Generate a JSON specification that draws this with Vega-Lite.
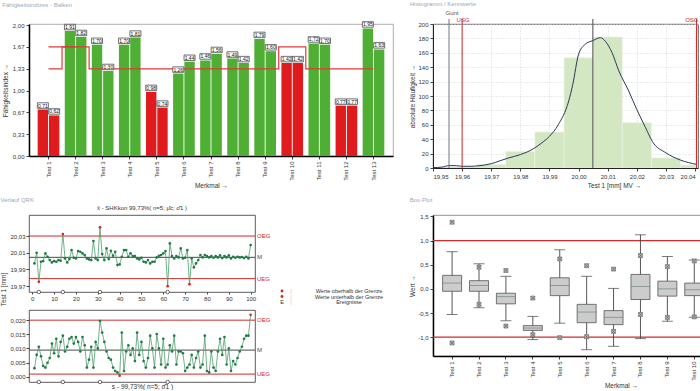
{
  "$schema": "https://vega.github.io/schema/vega-lite/v6.json",
  "background": "#ffffff",
  "padding": 0,
  "spacing": 6,
  "config": {
    "font": "Liberation Sans",
    "locale": {"number": {"decimal": ",", "thousands": ".", "grouping": [3], "currency": ["", " €"], "minus": "-"}},
    "view": {"stroke": "#444444", "strokeWidth": 0.8},
    "axis": {"labelFontSize": 6, "titleFontSize": 6.5, "labelColor": "#333333", "titleColor": "#333333", "titleFontWeight": "normal", "tickSize": 3, "labelPadding": 2, "tickColor": "#444444", "domainColor": "#222222", "grid": false, "labelOverlap": false},
    "title": {"fontSize": 6, "fontWeight": "normal", "color": "#9aaabb", "anchor": "start"}
  },
  "datasets": {
    "cpk": [
      {"nr": 1, "test": "Test 1", "kennwert": "Cp", "wert": 0.71, "status": "n.i.O."},
      {"nr": 1, "test": "Test 1", "kennwert": "Cpk", "wert": 0.62, "status": "n.i.O."},
      {"nr": 2, "test": "Test 2", "kennwert": "Cp", "wert": 1.91, "status": "i.O."},
      {"nr": 2, "test": "Test 2", "kennwert": "Cpk", "wert": 1.82, "status": "i.O."},
      {"nr": 3, "test": "Test 3", "kennwert": "Cp", "wert": 1.70, "status": "i.O."},
      {"nr": 3, "test": "Test 3", "kennwert": "Cpk", "wert": 1.30, "status": "i.O."},
      {"nr": 4, "test": "Test 4", "kennwert": "Cp", "wert": 1.70, "status": "i.O."},
      {"nr": 4, "test": "Test 4", "kennwert": "Cpk", "wert": 1.81, "status": "i.O."},
      {"nr": 5, "test": "Test 5", "kennwert": "Cp", "wert": 0.98, "status": "n.i.O."},
      {"nr": 5, "test": "Test 5", "kennwert": "Cpk", "wert": 0.74, "status": "n.i.O."},
      {"nr": 6, "test": "Test 6", "kennwert": "Cp", "wert": 1.26, "status": "i.O."},
      {"nr": 6, "test": "Test 6", "kennwert": "Cpk", "wert": 1.44, "status": "i.O."},
      {"nr": 7, "test": "Test 7", "kennwert": "Cp", "wert": 1.46, "status": "i.O."},
      {"nr": 7, "test": "Test 7", "kennwert": "Cpk", "wert": 1.56, "status": "i.O."},
      {"nr": 8, "test": "Test 8", "kennwert": "Cp", "wert": 1.49, "status": "i.O."},
      {"nr": 8, "test": "Test 8", "kennwert": "Cpk", "wert": 1.42, "status": "i.O."},
      {"nr": 9, "test": "Test 9", "kennwert": "Cp", "wert": 1.79, "status": "i.O."},
      {"nr": 9, "test": "Test 9", "kennwert": "Cpk", "wert": 1.60, "status": "i.O."},
      {"nr": 10, "test": "Test 10", "kennwert": "Cp", "wert": 1.42, "status": "n.i.O."},
      {"nr": 10, "test": "Test 10", "kennwert": "Cpk", "wert": 1.42, "status": "n.i.O."},
      {"nr": 11, "test": "Test 11", "kennwert": "Cp", "wert": 1.72, "status": "i.O."},
      {"nr": 11, "test": "Test 11", "kennwert": "Cpk", "wert": 1.70, "status": "i.O."},
      {"nr": 12, "test": "Test 12", "kennwert": "Cp", "wert": 0.77, "status": "n.i.O."},
      {"nr": 12, "test": "Test 12", "kennwert": "Cpk", "wert": 0.77, "status": "n.i.O."},
      {"nr": 13, "test": "Test 13", "kennwert": "Cp", "wert": 1.95, "status": "i.O."},
      {"nr": 13, "test": "Test 13", "kennwert": "Cpk", "wert": 1.63, "status": "i.O."}
    ],
    "grenzen": [
      {"nr": 1, "test": "Test 1", "serie": "A", "grenze": 1.667},
      {"nr": 2, "test": "Test 2", "serie": "A", "grenze": 1.667},
      {"nr": 3, "test": "Test 3", "serie": "A", "grenze": 1.333},
      {"nr": 4, "test": "Test 4", "serie": "A", "grenze": 1.333},
      {"nr": 5, "test": "Test 5", "serie": "A", "grenze": 1.333},
      {"nr": 6, "test": "Test 6", "serie": "A", "grenze": 1.333},
      {"nr": 7, "test": "Test 7", "serie": "A", "grenze": 1.333},
      {"nr": 8, "test": "Test 8", "serie": "A", "grenze": 1.333},
      {"nr": 9, "test": "Test 9", "serie": "A", "grenze": 1.333},
      {"nr": 10, "test": "Test 10", "serie": "A", "grenze": 1.667},
      {"nr": 11, "test": "Test 11", "serie": "A", "grenze": 1.333},
      {"nr": 12, "test": "Test 12", "serie": "A", "grenze": 1.333},
      {"nr": 13, "test": "Test 13", "serie": "A", "grenze": 1.333},
      {"nr": 1, "test": "Test 1", "serie": "B", "grenze": 1.333},
      {"nr": 2, "test": "Test 2", "serie": "B", "grenze": 1.667}
    ],
    "hist": [
      {"von": 19.965, "bis": 19.975, "anzahl": 5},
      {"von": 19.975, "bis": 19.985, "anzahl": 23},
      {"von": 19.985, "bis": 19.995, "anzahl": 50},
      {"von": 19.995, "bis": 20.005, "anzahl": 153},
      {"von": 20.005, "bis": 20.015, "anzahl": 182},
      {"von": 20.015, "bis": 20.025, "anzahl": 63},
      {"von": 20.025, "bis": 20.035, "anzahl": 14},
      {"von": 20.035, "bis": 20.045, "anzahl": 4}
    ],
    "dichte": [
      {"x": 19.95, "y": 0.5}, {"x": 19.953, "y": 1.2}, {"x": 19.9555, "y": 3.3}, {"x": 19.958, "y": 3.2},
      {"x": 19.96, "y": 2.4}, {"x": 19.963, "y": 2.4}, {"x": 19.9655, "y": 3}, {"x": 19.97, "y": 6},
      {"x": 19.973, "y": 10}, {"x": 19.976, "y": 14}, {"x": 19.98, "y": 18.6}, {"x": 19.984, "y": 25.6},
      {"x": 19.9874, "y": 35}, {"x": 19.99, "y": 44}, {"x": 19.993, "y": 60}, {"x": 19.9966, "y": 93},
      {"x": 19.998, "y": 116}, {"x": 20.0, "y": 158}, {"x": 20.0023, "y": 172}, {"x": 20.0049, "y": 177},
      {"x": 20.0075, "y": 181}, {"x": 20.0092, "y": 176}, {"x": 20.0115, "y": 160}, {"x": 20.0138, "y": 135},
      {"x": 20.0172, "y": 107}, {"x": 20.02, "y": 81}, {"x": 20.023, "y": 56}, {"x": 20.0253, "y": 37},
      {"x": 20.03, "y": 21}, {"x": 20.035, "y": 11}, {"x": 20.0405, "y": 5}
    ],
    "vlinien": [
      {"name": "Gunt", "wert": 19.9555},
      {"name": "USG", "wert": 19.96},
      {"name": "xquer", "wert": 20.0049},
      {"name": "OSG", "wert": 20.0405}
    ],
    "grenzen_x": [
      {"name": "OEG", "wert": 20.03},
      {"name": "M", "wert": 20.0045},
      {"name": "UEG", "wert": 19.979}
    ],
    "grenzen_s": [
      {"name": "OEG", "wert": 0.0200},
      {"name": "M", "wert": 0.0094},
      {"name": "UEG", "wert": 0.0009}
    ],
    "ereignisse": [{"i": 3}, {"i": 14}, {"i": 31}, {"i": 62}],
    "stichproben": [
      {"i": 1, "xbar": 19.9972, "s": 0.0030}, {"i": 2, "xbar": 20.0100, "s": 0.0077}, {"i": 3, "xbar": 19.9752, "s": 0.0106}, {"i": 4, "xbar": 19.9992, "s": 0.0072}, {"i": 5, "xbar": 20.0000, "s": 0.0038},
      {"i": 6, "xbar": 20.0092, "s": 0.0032}, {"i": 7, "xbar": 20.0052, "s": 0.0049}, {"i": 8, "xbar": 20.0012, "s": 0.0066}, {"i": 9, "xbar": 19.9984, "s": 0.0117}, {"i": 10, "xbar": 20.0000, "s": 0.0083},
      {"i": 11, "xbar": 19.9992, "s": 0.0134}, {"i": 12, "xbar": 20.0012, "s": 0.0072}, {"i": 13, "xbar": 20.0004, "s": 0.0123}, {"i": 14, "xbar": 20.0324, "s": 0.0145}, {"i": 15, "xbar": 20.0032, "s": 0.0089},
      {"i": 16, "xbar": 19.9984, "s": 0.0106}, {"i": 17, "xbar": 20.0024, "s": 0.0134}, {"i": 18, "xbar": 20.0132, "s": 0.0140}, {"i": 19, "xbar": 20.0040, "s": 0.0117}, {"i": 20, "xbar": 20.0032, "s": 0.0140},
      {"i": 21, "xbar": 20.0120, "s": 0.0123}, {"i": 22, "xbar": 20.0112, "s": 0.0089}, {"i": 23, "xbar": 20.0092, "s": 0.0140}, {"i": 24, "xbar": 20.0072, "s": 0.0111}, {"i": 25, "xbar": 20.0032, "s": 0.0032},
      {"i": 26, "xbar": 20.0020, "s": 0.0060}, {"i": 27, "xbar": 20.0012, "s": 0.0106}, {"i": 28, "xbar": 20.0240, "s": 0.0032}, {"i": 29, "xbar": 20.0032, "s": 0.0123}, {"i": 30, "xbar": 20.0012, "s": 0.0100},
      {"i": 31, "xbar": 20.0404, "s": 0.0197}, {"i": 32, "xbar": 20.0084, "s": 0.0156}, {"i": 33, "xbar": 20.0012, "s": 0.0123}, {"i": 34, "xbar": 20.0152, "s": 0.0089}, {"i": 35, "xbar": 20.0024, "s": 0.0066},
      {"i": 36, "xbar": 20.0124, "s": 0.0060}, {"i": 37, "xbar": 20.0064, "s": 0.0032}, {"i": 38, "xbar": 20.0112, "s": 0.0020}, {"i": 39, "xbar": 19.9952, "s": 0.0015}, {"i": 40, "xbar": 19.9960, "s": 0.0003},
      {"i": 41, "xbar": 20.0052, "s": 0.0156}, {"i": 42, "xbar": 20.0132, "s": 0.0020}, {"i": 43, "xbar": 20.0132, "s": 0.0089}, {"i": 44, "xbar": 20.0052, "s": 0.0111}, {"i": 45, "xbar": 20.0092, "s": 0.0077},
      {"i": 46, "xbar": 20.0060, "s": 0.0100}, {"i": 47, "xbar": 20.0060, "s": 0.0055}, {"i": 48, "xbar": 20.0032, "s": 0.0156}, {"i": 49, "xbar": 20.0020, "s": 0.0077}, {"i": 50, "xbar": 20.0040, "s": 0.0123},
      {"i": 51, "xbar": 19.9992, "s": 0.0055}, {"i": 52, "xbar": 19.9984, "s": 0.0032}, {"i": 53, "xbar": 20.0012, "s": 0.0066}, {"i": 54, "xbar": 19.9972, "s": 0.0145}, {"i": 55, "xbar": 19.9992, "s": 0.0100},
      {"i": 56, "xbar": 19.9992, "s": 0.0032}, {"i": 57, "xbar": 20.0044, "s": 0.0151}, {"i": 58, "xbar": 20.0064, "s": 0.0100}, {"i": 59, "xbar": 20.0072, "s": 0.0043}, {"i": 60, "xbar": 20.0092, "s": 0.0134},
      {"i": 61, "xbar": 20.0120, "s": 0.0032}, {"i": 62, "xbar": 19.9700, "s": 0.0043}, {"i": 63, "xbar": 20.0212, "s": 0.0111}, {"i": 64, "xbar": 20.0060, "s": 0.0089}, {"i": 65, "xbar": 20.0032, "s": 0.0145},
      {"i": 66, "xbar": 20.0060, "s": 0.0043}, {"i": 67, "xbar": 20.0044, "s": 0.0089}, {"i": 68, "xbar": 20.0152, "s": 0.0089}, {"i": 69, "xbar": 20.0032, "s": 0.0083}, {"i": 70, "xbar": 20.0040, "s": 0.0020},
      {"i": 71, "xbar": 20.0132, "s": 0.0032}, {"i": 72, "xbar": 19.9724, "s": 0.0043}, {"i": 73, "xbar": 20.0032, "s": 0.0077}, {"i": 74, "xbar": 19.9924, "s": 0.0032}, {"i": 75, "xbar": 19.9972, "s": 0.0066},
      {"i": 76, "xbar": 20.0012, "s": 0.0089}, {"i": 77, "xbar": 20.0072, "s": 0.0032}, {"i": 78, "xbar": 20.0044, "s": 0.0043}, {"i": 79, "xbar": 20.0072, "s": 0.0145}, {"i": 80, "xbar": 20.0060, "s": 0.0020},
      {"i": 81, "xbar": 20.0044, "s": 0.0015}, {"i": 82, "xbar": 20.0060, "s": 0.0089}, {"i": 83, "xbar": 20.0040, "s": 0.0032}, {"i": 84, "xbar": 20.0060, "s": 0.0020}, {"i": 85, "xbar": 20.0044, "s": 0.0089},
      {"i": 86, "xbar": 20.0068, "s": 0.0134}, {"i": 87, "xbar": 20.0036, "s": 0.0077}, {"i": 88, "xbar": 20.0060, "s": 0.0140}, {"i": 89, "xbar": 20.0044, "s": 0.0043}, {"i": 90, "xbar": 20.0068, "s": 0.0100},
      {"i": 91, "xbar": 20.0032, "s": 0.0020}, {"i": 92, "xbar": 20.0052, "s": 0.0055}, {"i": 93, "xbar": 20.0040, "s": 0.0043}, {"i": 94, "xbar": 20.0052, "s": 0.0066}, {"i": 95, "xbar": 20.0044, "s": 0.0089},
      {"i": 96, "xbar": 20.0048, "s": 0.0106}, {"i": 97, "xbar": 20.0036, "s": 0.0134}, {"i": 98, "xbar": 20.0052, "s": 0.0145}, {"i": 99, "xbar": 20.0032, "s": 0.0145}, {"i": 100, "xbar": 20.0192, "s": 0.0219}
    ],
    "legende": [
      {"zeile": 1, "label": "Werte oberhalb der Grenze"},
      {"zeile": 2, "label": "Werte unterhalb der Grenze"},
      {"zeile": 3, "label": "Ereignisse"}
    ],
    "box": [
      {"test": "Test 1", "min": -0.53, "q1": -0.05, "median": 0.12, "q3": 0.28, "max": 0.77},
      {"test": "Test 2", "min": -0.39, "q1": -0.05, "median": 0.07, "q3": 0.17, "max": 0.52},
      {"test": "Test 3", "min": -0.66, "q1": -0.31, "median": -0.16, "q3": -0.09, "max": 0.26},
      {"test": "Test 4", "min": -1.05, "q1": -0.86, "median": -0.81, "q3": -0.76, "max": -0.57},
      {"test": "Test 5", "min": -0.71, "q1": -0.14, "median": 0.07, "q3": 0.23, "max": 0.81},
      {"test": "Test 6", "min": -1.26, "q1": -0.70, "median": -0.48, "q3": -0.32, "max": 0.26},
      {"test": "Test 7", "min": -1.19, "q1": -0.74, "median": -0.59, "q3": -0.45, "max": 0.01},
      {"test": "Test 8", "min": -1.03, "q1": -0.22, "median": 0.05, "q3": 0.30, "max": 1.12},
      {"test": "Test 9", "min": -0.67, "q1": -0.15, "median": 0.00, "q3": 0.16, "max": 0.67},
      {"test": "Test 10", "min": -0.59, "q1": -0.14, "median": -0.02, "q3": 0.12, "max": 0.60}
    ],
    "ausreisser": [
      {"test": "Test 1", "wert": 1.38}, {"test": "Test 1", "wert": -1.12},
      {"test": "Test 2", "wert": 0.45}, {"test": "Test 2", "wert": -0.32},
      {"test": "Test 3", "wert": 0.38}, {"test": "Test 3", "wert": -0.77},
      {"test": "Test 4", "wert": -0.19}, {"test": "Test 4", "wert": -0.95},
      {"test": "Test 5", "wert": 0.62}, {"test": "Test 5", "wert": -1.01},
      {"test": "Test 6", "wert": 0.48}, {"test": "Test 6", "wert": -0.99},
      {"test": "Test 7", "wert": 0.41}, {"test": "Test 7", "wert": -0.88},
      {"test": "Test 8", "wert": 0.69}, {"test": "Test 8", "wert": -0.53},
      {"test": "Test 9", "wert": 0.46}, {"test": "Test 9", "wert": -0.59},
      {"test": "Test 10", "wert": 0.58}, {"test": "Test 10", "wert": -0.58}
    ],
    "box_grenzen": [{"grenze": 1.0}, {"grenze": -1.0}]
  },
  "vconcat": [
    {
      "concat": [
        {
          "title": {"text": "Fähigkeitsindizes - Balken", "offset": 12},
          "width": 364,
          "height": 132,
          "view": {"stroke": "#9a9a9a"},
          "layer": [
            {
              "data": {"name": "cpk"},
              "mark": {"type": "bar"},
              "encoding": {
                "x": {"field": "test", "type": "nominal",
                  "scale": {"domain": ["Test 1", "Test 2", "Test 3", "Test 4", "Test 5", "Test 6", "Test 7", "Test 8", "Test 9", "Test 10", "Test 11", "Test 12", "Test 13"], "paddingInner": 0.2, "paddingOuter": 0.32},
                  "axis": {"title": "Merkmal →", "labelAngle": -90, "domainWidth": 1.5, "domainColor": "#000000", "titlePadding": 2, "labelOverlap": false}},
                "xOffset": {"field": "kennwert", "type": "nominal", "scale": {"paddingInner": 0.08}},
                "y": {"field": "wert", "type": "quantitative", "scale": {"domain": [0, 2.018], "nice": false},
                  "axis": {"values": [0, 0.333, 0.667, 1, 1.333, 1.667, 2], "tickCount": 100, "format": ".2f", "title": "Fähigkeitsindex →", "titlePadding": 4, "domainWidth": 1.5, "domainColor": "#000000", "labelOverlap": false}},
                "color": {"condition": {"test": "datum.status == 'n.i.O.'", "value": "#e01b1e"}, "value": "#4fae34"}
              }
            },
            {
              "data": {"name": "grenzen"},
              "mark": {"type": "line", "interpolate": "step", "color": "#e23a3a", "strokeWidth": 1.2},
              "encoding": {
                "x": {"field": "test", "type": "nominal"},
                "y": {"field": "grenze", "type": "quantitative"},
                "detail": {"field": "serie", "type": "nominal"},
                "order": {"field": "nr", "type": "quantitative"}
              }
            },
            {
              "data": {"name": "cpk"},
              "mark": {"type": "point", "shape": "M-1,-0.5H1V0.5H-1Z", "size": 121, "filled": true, "fill": "#ffffff", "stroke": "#333333", "strokeWidth": 0.7, "opacity": 1, "yOffset": -4},
              "encoding": {
                "x": {"field": "test", "type": "nominal"},
                "xOffset": {"field": "kennwert", "type": "nominal"},
                "y": {"field": "wert", "type": "quantitative"}
              }
            },
            {
              "data": {"name": "cpk"},
              "mark": {"type": "text", "fontSize": 5, "color": "#111111", "dy": -4, "baseline": "middle"},
              "encoding": {
                "x": {"field": "test", "type": "nominal"},
                "xOffset": {"field": "kennwert", "type": "nominal"},
                "y": {"field": "wert", "type": "quantitative"},
                "text": {"field": "wert", "type": "quantitative", "format": ".2f"}
              }
            }
          ]
        },
        {
          "title": {"text": "Histogramm / Kennwerte", "offset": 3},
          "width": 265,
          "height": 144,
          "view": {"stroke": "#333333"},
          "layer": [
            {
              "data": {"name": "hist"},
              "mark": {"type": "rect", "fill": "#d3e7c3", "stroke": "#eef5e8", "strokeWidth": 0.6, "clip": true},
              "encoding": {
                "x": {"field": "von", "type": "quantitative", "scale": {"domain": [19.95, 20.041], "nice": false, "zero": false},
                  "axis": {"values": [19.95, 19.96, 19.97, 19.98, 19.99, 20.0, 20.01, 20.02, 20.03, 20.04], "tickCount": 100, "format": ".2f", "labelFlush": 6, "labelOverlap": false, "grid": true, "gridColor": "#d6d6d6", "gridDash": [1, 2], "title": "Test 1 [mm]  MV →", "titleX": 181, "titlePadding": 3}},
                "x2": {"field": "bis"},
                "y": {"field": "anzahl", "type": "quantitative", "scale": {"domain": [0, 200], "nice": false},
                  "axis": {"values": [0, 20, 40, 60, 80, 100, 120, 140, 160, 180, 200], "tickCount": 100, "labelOverlap": false, "grid": true, "gridColor": "#d6d6d6", "gridDash": [1, 2], "title": "absolute Häufigkeit →", "titlePadding": 2}},
                "y2": {"datum": 0}
              }
            },
            {
              "data": {"name": "dichte"},
              "mark": {"type": "line", "interpolate": "monotone", "color": "#2c3858", "strokeWidth": 1},
              "encoding": {
                "x": {"field": "x", "type": "quantitative"},
                "y": {"field": "y", "type": "quantitative"}
              }
            },
            {
              "data": {"name": "vlinien"},
              "mark": {"type": "rule", "strokeWidth": 1},
              "encoding": {
                "x": {"field": "wert", "type": "quantitative"},
                "y": {"datum": 0},
                "y2": {"datum": 207},
                "color": {"condition": [{"test": "datum.name == 'USG' || datum.name == 'OSG'", "value": "#c8282b"}, {"test": "datum.name == 'Gunt'", "value": "#6f7584"}], "value": "#4a4a4a"}
              }
            },
            {
              "data": {"name": "vlinien"},
              "transform": [{"filter": "datum.name == 'Gunt'"}],
              "mark": {"type": "text", "fontSize": 6, "baseline": "bottom", "dx": 3, "color": "#555555"},
              "encoding": {
                "x": {"field": "wert", "type": "quantitative"},
                "y": {"datum": 211},
                "text": {"field": "name"}
              }
            },
            {
              "data": {"name": "vlinien"},
              "transform": [{"filter": "datum.name == 'USG'"}],
              "mark": {"type": "text", "fontSize": 6, "baseline": "bottom", "dx": 1, "color": "#c8282b"},
              "encoding": {
                "x": {"field": "wert", "type": "quantitative"},
                "y": {"datum": 202},
                "text": {"field": "name"}
              }
            },
            {
              "data": {"name": "vlinien"},
              "transform": [{"filter": "datum.name == 'OSG'"}],
              "mark": {"type": "text", "fontSize": 6, "baseline": "bottom", "align": "right", "dx": 2, "color": "#c8282b"},
              "encoding": {
                "x": {"field": "wert", "type": "quantitative"},
                "y": {"datum": 202},
                "text": {"field": "name"}
              }
            }
          ]
        }
      ],
      "columns": 2,
      "align": "none",
      "spacing": 15
    },
    {
      "concat": [
        {
          "title": {"text": "Verlauf QRK", "offset": 2},
          "spacing": 2,
          "vconcat": [
            {
              "title": {"text": "x̄ - SHKkon 99,73%( n=5; μ̂c; σ̂1 )", "anchor": "middle", "color": "#333333", "fontSize": 6, "offset": 4},
              "width": 226,
              "height": 77,
              "view": {"stroke": "#333333"},
              "layer": [
                {
                  "data": {"name": "grenzen_x"},
                  "mark": {"type": "rule", "strokeWidth": 1},
                  "encoding": {
                    "y": {"field": "wert", "type": "quantitative", "scale": {"domain": [19.963, 20.0552], "nice": false, "zero": false},
                      "axis": {"values": [19.97, 19.99, 20.01, 20.03], "tickCount": 100, "format": ".2f", "labelOverlap": false, "title": "Test 1 [mm]", "titlePadding": 3, "titleY": 74, "labelPadding": 1, "domain": false}},
                    "color": {"condition": {"test": "datum.name == 'M'", "value": "#4a4a4a"}, "value": "#cc2a2a"}
                  }
                },
                {
                  "data": {"name": "grenzen_x"},
                  "mark": {"type": "text", "align": "left", "dx": 2, "fontSize": 6},
                  "encoding": {
                    "x": {"datum": 102},
                    "y": {"field": "wert", "type": "quantitative"},
                    "text": {"field": "name"},
                    "color": {"condition": {"test": "datum.name == 'M'", "value": "#4a4a4a"}, "value": "#cc2a2a"}
                  }
                },
                {
                  "data": {"name": "stichproben"},
                  "mark": {"type": "line", "color": "#4a9f68", "strokeWidth": 0.8},
                  "encoding": {
                    "x": {"field": "i", "type": "quantitative", "scale": {"domain": [-1.5, 102], "nice": false, "zero": false},
                      "axis": {"values": [0, 10, 20, 30, 40, 50, 60, 70, 80, 90, 100], "tickCount": 100, "format": "d", "labelOverlap": false, "title": null, "tickSize": 2, "labelPadding": 1, "domain": false}},
                    "y": {"field": "xbar", "type": "quantitative"}
                  }
                },
                {
                  "data": {"name": "stichproben"},
                  "mark": {"type": "circle", "size": 7, "opacity": 1},
                  "encoding": {
                    "x": {"field": "i", "type": "quantitative"},
                    "y": {"field": "xbar", "type": "quantitative"},
                    "color": {"condition": {"test": "datum.xbar > 20.03 || datum.xbar < 19.979", "value": "#d42424"}, "value": "#1f7a44"}
                  }
                },
                {
                  "data": {"name": "ereignisse"},
                  "mark": {"type": "point", "shape": "circle", "size": 12, "filled": true, "fill": "#ffffff", "stroke": "#333333", "strokeWidth": 0.7, "opacity": 1},
                  "encoding": {
                    "x": {"field": "i", "type": "quantitative"},
                    "y": {"datum": 19.963}
                  }
                }
              ]
            },
            {
              "width": 226,
              "height": 72,
              "view": {"stroke": "#333333"},
              "layer": [
                {
                  "data": {"name": "grenzen_s"},
                  "mark": {"type": "rule", "strokeWidth": 1},
                  "encoding": {
                    "y": {"field": "wert", "type": "quantitative", "scale": {"domain": [-0.0019, 0.0236], "nice": false, "zero": false},
                      "axis": {"values": [0, 0.005, 0.01, 0.015, 0.02], "tickCount": 100, "format": ".3f", "labelOverlap": false, "title": " ", "titlePadding": 3, "labelPadding": 1, "domain": false}},
                    "color": {"condition": {"test": "datum.name == 'M'", "value": "#4a4a4a"}, "value": "#cc2a2a"}
                  }
                },
                {
                  "data": {"name": "grenzen_s"},
                  "mark": {"type": "text", "align": "left", "dx": 2, "fontSize": 6},
                  "encoding": {
                    "x": {"datum": 102},
                    "y": {"field": "wert", "type": "quantitative"},
                    "text": {"field": "name"},
                    "color": {"condition": {"test": "datum.name == 'M'", "value": "#4a4a4a"}, "value": "#cc2a2a"}
                  }
                },
                {
                  "data": {"name": "stichproben"},
                  "mark": {"type": "line", "color": "#4a9f68", "strokeWidth": 0.8},
                  "encoding": {
                    "x": {"field": "i", "type": "quantitative", "scale": {"domain": [-1.5, 102], "nice": false, "zero": false},
                      "axis": {"labels": false, "ticks": false, "domain": false, "title": "s - 99,73%( n=5; σ̂1 )", "titlePadding": 1}},
                    "y": {"field": "s", "type": "quantitative"}
                  }
                },
                {
                  "data": {"name": "stichproben"},
                  "mark": {"type": "circle", "size": 7, "opacity": 1},
                  "encoding": {
                    "x": {"field": "i", "type": "quantitative"},
                    "y": {"field": "s", "type": "quantitative"},
                    "color": {"condition": {"test": "datum.s > 0.02 || datum.s < 0.0009", "value": "#d42424"}, "value": "#1f7a44"}
                  }
                },
                {
                  "data": {"name": "ereignisse"},
                  "mark": {"type": "point", "shape": "circle", "size": 12, "filled": true, "fill": "#ffffff", "stroke": "#333333", "strokeWidth": 0.7, "opacity": 1},
                  "encoding": {
                    "x": {"field": "i", "type": "quantitative"},
                    "y": {"datum": -0.0019}
                  }
                }
              ]
            }
          ]
        },
        {
          "width": 130,
          "height": 110,
          "view": {"fill": "#ffffff", "stroke": null},
          "data": {"name": "legende"},
          "layer": [
            {
              "transform": [{"filter": "datum.zeile <= 2"}],
              "mark": {"type": "circle", "size": 8, "color": "#c62b2b", "opacity": 1, "xOffset": -58},
              "encoding": {
                "y": {"field": "zeile", "type": "quantitative", "scale": {"domain": [-12.82, 7.18], "reverse": true, "nice": false, "zero": false}, "axis": null}
              }
            },
            {
              "transform": [{"filter": "datum.zeile == 3"}],
              "mark": {"type": "text", "fontSize": 5.5, "color": "#333333", "dx": -58},
              "encoding": {
                "y": {"field": "zeile", "type": "quantitative"},
                "text": {"value": "E"}
              }
            },
            {
              "mark": {"type": "text", "fontSize": 5.5, "color": "#bbbbbb", "dx": -49},
              "encoding": {
                "y": {"field": "zeile", "type": "quantitative"},
                "text": {"value": "|"}
              }
            },
            {
              "mark": {"type": "text", "fontSize": 5.5, "color": "#333333", "dx": 9},
              "encoding": {
                "y": {"field": "zeile", "type": "quantitative"},
                "text": {"field": "label"}
              }
            }
          ]
        },
        {
          "title": {"text": "Box-Plot", "offset": 10},
          "width": 268,
          "height": 141,
          "view": {"stroke": "#777777"},
          "layer": [
            {
              "data": {"name": "box_grenzen"},
              "mark": {"type": "rule", "color": "#d42a2a", "strokeWidth": 1.2},
              "encoding": {
                "y": {"field": "grenze", "type": "quantitative", "scale": {"domain": [-1.39, 1.53], "nice": false, "zero": false},
                  "axis": {"values": [-1, -0.5, 0, 0.5, 1, 1.5], "tickCount": 100, "format": ".1f", "labelOverlap": false, "title": "Wert →", "titlePadding": 2, "domainColor": "#000000", "domainWidth": 1.5}}
              }
            },
            {
              "data": {"name": "box"},
              "mark": {"type": "rule", "color": "#444444", "strokeWidth": 0.9},
              "encoding": {
                "x": {"field": "test", "type": "nominal",
                  "scale": {"domain": ["Test 1", "Test 2", "Test 3", "Test 4", "Test 5", "Test 6", "Test 7", "Test 8", "Test 9", "Test 10"], "paddingInner": 0.5, "paddingOuter": 0.23, "align": 1},
                  "axis": {"title": "Merkmal →", "labelAngle": -90, "labelOverlap": false, "titleX": 188, "titlePadding": 2, "domainColor": "#000000", "domainWidth": 1.5}},
                "y": {"field": "min", "type": "quantitative"},
                "y2": {"field": "max"}
              }
            },
            {
              "data": {"name": "box"},
              "mark": {"type": "tick", "color": "#444444", "size": 11, "thickness": 1},
              "encoding": {
                "x": {"field": "test", "type": "nominal"},
                "y": {"field": "min", "type": "quantitative"}
              }
            },
            {
              "data": {"name": "box"},
              "mark": {"type": "tick", "color": "#444444", "size": 11, "thickness": 1},
              "encoding": {
                "x": {"field": "test", "type": "nominal"},
                "y": {"field": "max", "type": "quantitative"}
              }
            },
            {
              "data": {"name": "box"},
              "mark": {"type": "bar", "size": 19, "fill": "#cccccc", "stroke": "#555555", "strokeWidth": 0.8},
              "encoding": {
                "x": {"field": "test", "type": "nominal"},
                "y": {"field": "q1", "type": "quantitative"},
                "y2": {"field": "q3"}
              }
            },
            {
              "data": {"name": "box"},
              "mark": {"type": "tick", "color": "#6e8a76", "size": 19, "thickness": 1},
              "encoding": {
                "x": {"field": "test", "type": "nominal"},
                "y": {"field": "median", "type": "quantitative"}
              }
            },
            {
              "data": {"name": "ausreisser"},
              "mark": {"type": "point", "shape": "square", "size": 16, "filled": true, "fill": "#bbbbbb", "stroke": "#666666", "strokeWidth": 0.6, "opacity": 1},
              "encoding": {
                "x": {"field": "test", "type": "nominal"},
                "y": {"field": "wert", "type": "quantitative"}
              }
            },
            {
              "data": {"name": "ausreisser"},
              "mark": {"type": "point", "shape": "M-1,-1L1,1M-1,1L1,-1", "size": 16, "filled": false, "stroke": "#555555", "strokeWidth": 0.6, "opacity": 1},
              "encoding": {
                "x": {"field": "test", "type": "nominal"},
                "y": {"field": "wert", "type": "quantitative"}
              }
            }
          ]
        }
      ],
      "columns": 3,
      "align": "none",
      "spacing": 4
    }
  ]
}
